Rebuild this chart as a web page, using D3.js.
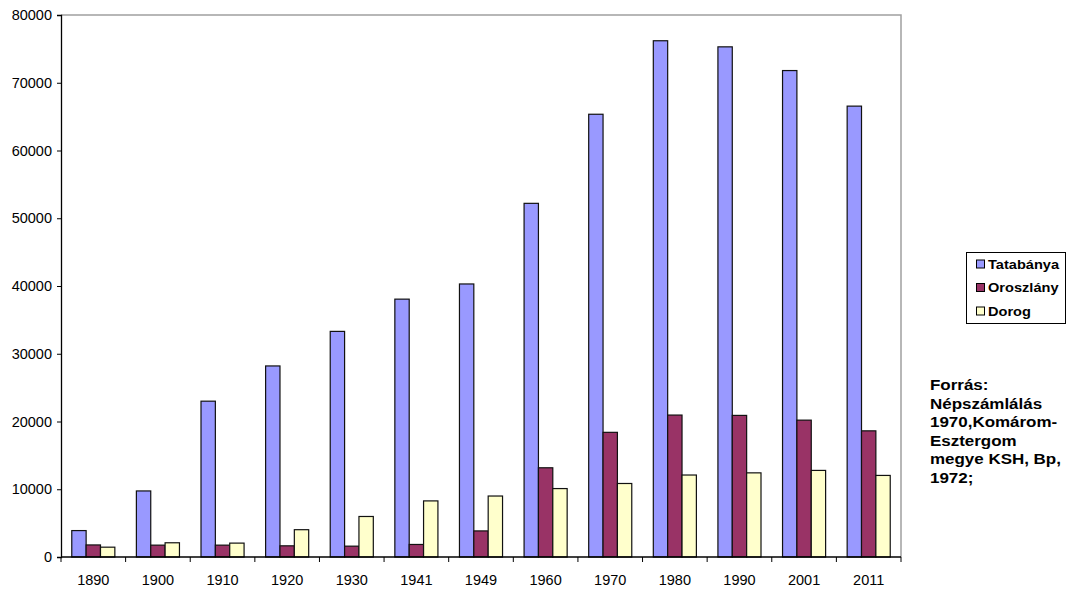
<!DOCTYPE html>
<html><head><meta charset="utf-8">
<script src="https://cdn.jsdelivr.net/npm/d3@7/dist/d3.min.js"></script>
<style>body{margin:0;background:#fff}svg{display:block}text{font-family:"Liberation Sans",Arial,sans-serif}</style>
</head><body>
<svg id="c" width="1076" height="613"></svg>
<script>
const years = ["1890","1900","1910","1920","1930","1941","1949","1960","1970","1980","1990","2001","2011"];
const seriesNames = ["Tatabánya","Oroszlány","Dorog"];
const tatabanya = [3900, 9750, 23000, 28200, 33300, 38060, 40300, 52200, 65350, 76200, 75300, 71800, 66550];
const oroszlany = [1780, 1750, 1750, 1650, 1600, 1850, 3850, 13170, 18400, 20950, 20900, 20200, 18620];
const dorog     = [1450, 2100, 2050, 4030, 5980, 8280, 9000, 10100, 10850, 12100, 12420, 12780, 12040];
const yTicks = [0,10000,20000,30000,40000,50000,60000,70000,80000];
const colors = ["#9999FF","#993366","#FFFFCC"];
const sourceLines = ["Forrás:","Népszámlálás","1970,Komárom-","Esztergom","megye KSH, Bp,","1972;"];

const data = [tatabanya, oroszlany, dorog];
const svg = d3.select("#c");
const L = 61, R = 901, T = 15, B = 557;
const x = d3.scaleBand().domain(years).range([L, R]).padding(0);
const xs = d3.scaleBand().domain(seriesNames).range([0, x.bandwidth()]).paddingInner(0).paddingOuter(0.75);
const y = d3.scaleLinear().domain([0, 80000]).range([B, T]);

// frame top/right
svg.append("path").attr("d", `M${L},${T}H${R}V${B}`).attr("fill","none").attr("stroke","#a0a0a0").attr("stroke-width",1.5);

// bars
seriesNames.forEach((s, si) => {
  svg.append("g").selectAll("rect").data(years).join("rect")
    .attr("x", d => x(d) + xs(s))
    .attr("y", (d, i) => y(data[si][i]))
    .attr("width", xs.bandwidth())
    .attr("height", (d, i) => B - y(data[si][i]))
    .attr("fill", colors[si]).attr("stroke", "#111").attr("stroke-width", 1.2);
});

// y axis
const ya = svg.append("g").attr("transform", `translate(${L},0)`)
  .call(d3.axisLeft(y).tickValues(yTicks).tickFormat(d3.format("d")).tickSize(4).tickPadding(5));
ya.select(".domain").attr("stroke","#000").attr("stroke-width",1.3);
ya.selectAll(".tick line").attr("stroke","#000");
ya.selectAll("text").attr("font-size", 14.5).attr("fill","#000");

// x axis
svg.append("line").attr("x1", L).attr("x2", R).attr("y1", B).attr("y2", B).attr("stroke","#000").attr("stroke-width",1.3);
const bounds = years.map(d => x(d)).concat([R]);
svg.append("g").selectAll("line").data(bounds).join("line")
  .attr("x1", d => d).attr("x2", d => d).attr("y1", B).attr("y2", B + 5).attr("stroke","#000");
svg.append("g").selectAll("text").data(years).join("text")
  .attr("x", d => x(d) + x.bandwidth()/2).attr("y", B + 28)
  .attr("text-anchor","middle").attr("font-size", 14.5).text(d => d);

// legend
const lg = svg.append("g");
lg.append("rect").attr("x", 966.5).attr("y", 252.5).attr("width", 99).attr("height", 71)
  .attr("fill","#fff").attr("stroke","#000").attr("stroke-width",1);
seriesNames.forEach((s, i) => {
  const cy = 264 + i * 23.5;
  lg.append("rect").attr("x", 976.5).attr("y", cy - 4).attr("width", 8).attr("height", 8)
    .attr("fill", colors[i]).attr("stroke","#000").attr("stroke-width",1);
  lg.append("text").attr("transform", `translate(988,${cy + 4.5}) scale(1.14,1)`)
    .attr("font-size", 12.8).attr("font-weight","bold").text(s);
});

// source
svg.append("g").selectAll("text").data(sourceLines).join("text")
  .attr("transform", (d, i) => `translate(930,${390 + i * 18.5}) scale(1.17,1)`)
  .attr("font-size", 14.5).attr("font-weight","bold").text(d => d);
</script>
</body></html>
